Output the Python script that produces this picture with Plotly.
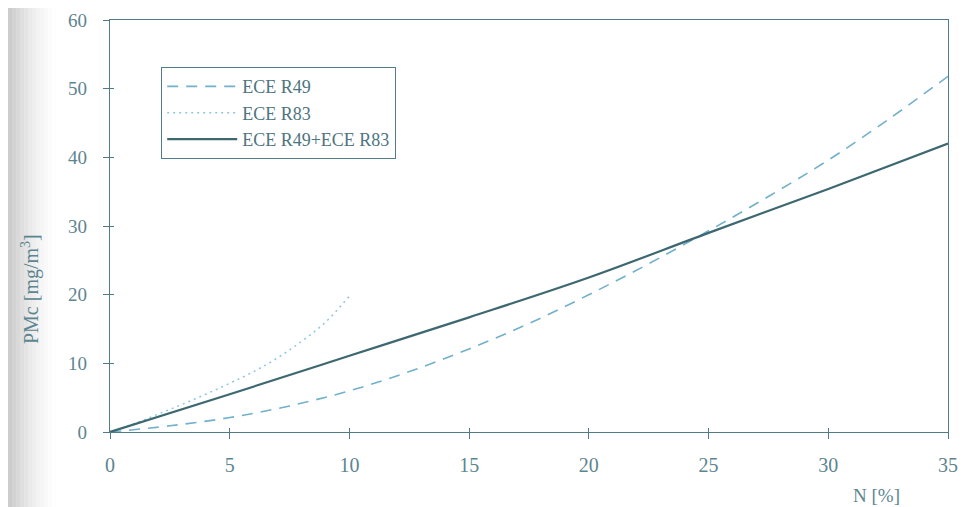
import plotly.graph_objects as go

# Data
x_r49 = [0, 2.5, 5, 7.5, 10, 12.5, 15, 17.5, 20, 22.5, 25, 27.5, 30, 32.5, 35]
y_r49 = [0, 0.9, 2.1, 3.8, 6.0, 8.8, 12.1, 15.8, 20.0, 24.5, 29.3, 34.3, 39.6, 45.5, 51.8]

x_r83 = [0, 1, 2, 3, 4, 5, 6, 7, 8, 9, 10]
y_r83 = [0, 1.2, 2.6, 4.0, 5.5, 7.1, 8.8, 10.8, 13.2, 16.0, 19.8]

x_sum = [0, 5, 10, 15, 20, 25, 30, 35]
y_sum = [0, 5.5, 11.1, 16.7, 22.5, 29.0, 35.4, 42.0]

x_ticks = [0, 5, 10, 15, 20, 25, 30, 35]
y_ticks = [0, 10, 20, 30, 40, 50, 60]

axis_col = "#4f7c88"
text_col = "#5d8590"
font_fam = "Liberation Serif, Times New Roman, serif"

# page body adds an 8px offset, so the figure is sized to fit the window
W, H = 958, 499
ML, MR, MT, MB = 102, 18, 12, 75
PW = W - ML - MR
PH = H - MT - MB

fig = go.Figure()
fig.add_trace(go.Scatter(x=x_r49, y=y_r49, mode="lines", name="ECE R49",
                         line=dict(color="#72b0cc", width=1.6, dash="11px,8px"),
                         line_shape="spline"))
fig.add_trace(go.Scatter(x=x_r83, y=y_r83, mode="lines", name="ECE R83",
                         line=dict(color="#8cc6e2", width=1.5, dash="2px,4px"),
                         line_shape="spline"))
fig.add_trace(go.Scatter(x=x_sum, y=y_sum, mode="lines", name="ECE R49+ECE R83",
                         line=dict(color="#3e6870", width=2.2),
                         line_shape="spline"))

# scan shading on the left edge
shapes = []
n = 12
for i in range(n):
    x0 = -ML / PW + i * 4 / PW
    x1 = x0 + 4 / PW
    shapes.append(dict(type="rect", xref="paper", yref="paper",
                       x0=x0, x1=x1, y0=-MB / PH, y1=1 + MT / PH, layer="below",
                       line=dict(width=0), fillcolor="#9a9a9a",
                       opacity=0.5 * (1 - i / n) ** 1.6))

fig.update_layout(
    width=W, height=H,
    margin=dict(l=ML, r=MR, t=MT, b=MB, autoexpand=False),
    paper_bgcolor="white", plot_bgcolor="white",
    font=dict(family=font_fam, color=text_col),
    showlegend=True,
    legend=dict(x=51 / PW, y=1 - 47 / PH, xanchor="left", yanchor="top",
                bordercolor=axis_col, borderwidth=1.2, bgcolor="white",
                font=dict(size=18, color="#4d7580", family=font_fam),
                itemwidth=70, tracegroupgap=0),
    xaxis=dict(range=[0, 35], tickvals=x_ticks, showgrid=False, zeroline=False,
               showline=True, linecolor=axis_col, linewidth=1.3, mirror=True,
               ticks="outside", ticklen=6, tickcolor=axis_col, tickwidth=1.2,
               ticklabelstandoff=9, automargin=False, ticklabeloverflow="allow",
               tickfont=dict(size=20, color=text_col, family=font_fam)),
    yaxis=dict(range=[0, 60], tickvals=y_ticks, showgrid=False, zeroline=False,
               showline=True, linecolor=axis_col, linewidth=1.3, mirror=True,
               ticks="outside", ticklen=6, tickcolor=axis_col, tickwidth=1.2,
               ticklabelstandoff=12, automargin=False, ticklabeloverflow="allow",
               tickfont=dict(size=19, color=text_col, family=font_fam)),
    xaxis2=dict(range=[0, 35], tickvals=x_ticks, overlaying="x", showgrid=False,
                zeroline=False, showline=False, showticklabels=False,
                ticks="inside", ticklen=4, tickcolor=axis_col, tickwidth=1.2),
    yaxis2=dict(range=[0, 60], tickvals=y_ticks, overlaying="y", showgrid=False,
                zeroline=False, showline=False, showticklabels=False,
                ticks="inside", ticklen=4, tickcolor=axis_col, tickwidth=1.2),
    shapes=shapes,
    annotations=[
        dict(text="N [%]", xref="paper", yref="paper", x=0.915, y=-63 / PH,
             xanchor="center", yanchor="middle", showarrow=False,
             font=dict(size=19, color=text_col, family=font_fam)),
        dict(text="PMc [mg/m<sup>3</sup>]", xref="paper", yref="paper",
             x=-80 / PW, y=0.347, textangle=-90, xanchor="center", yanchor="middle",
             showarrow=False, font=dict(size=20, color=text_col, family=font_fam)),
    ],
)
# invisible trace so the overlay axes are drawn
fig.add_trace(go.Scatter(x=[None], y=[None], xaxis="x2", yaxis="y2",
                         showlegend=False, hoverinfo="skip"))

fig.write_html("out.html")
